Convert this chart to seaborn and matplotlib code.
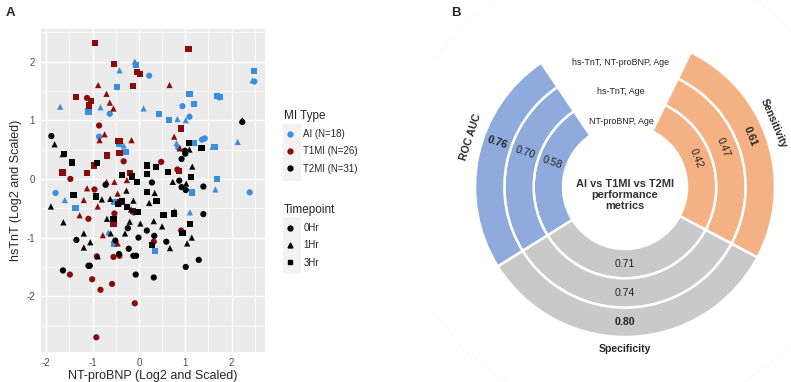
import matplotlib
matplotlib.use("Agg")
import numpy as np
import pandas as pd
import matplotlib.pyplot as plt
import seaborn as sns
from matplotlib.lines import Line2D
from matplotlib.patches import Circle, Rectangle
from matplotlib.ticker import MultipleLocator

# ---- Panel A: points, (NT-proBNP, hsTnT) ----
ai_0hr = [(0.22, 1.76), (-0.63, 1.11), (0.94, 1.24), (1.09, 1.06), (1.73, 1.39), (2.49, 1.66),
          (-0.86, 0.72), (0.85, 0.53), (1.36, 0.67), (1.42, 0.69), (2.39, -0.23), (-1.80, -0.24)]
ai_1hr = [(-0.09, 2.0), (-0.42, 1.85), (-1.70, 1.23), (-0.83, 1.22), (0.10, 1.20), (0.83, 1.02),
          (1.01, 1.0), (2.45, 1.68), (-0.33, 0.57), (0.81, 0.61), (1.59, 0.55), (2.13, 0.63),
          (1.65, -0.18), (-1.60, -0.36), (1.10, -0.57), (-0.66, -0.91)]
ai_3hr = [(-0.06, 1.94), (-0.47, 1.57), (-1.09, 1.15), (0.43, 1.10), (0.65, 1.0), (1.09, 1.45),
          (1.19, 1.28), (1.68, 1.41), (1.75, 1.40), (2.49, 1.84), (-0.43, 0.60), (-0.29, 0.46),
          (1.19, 0.61), (1.63, 0.54), (1.68, 0.0), (1.14, -0.23), (-1.37, -0.49), (-0.53, -0.40),
          (-0.53, -1.11), (0.34, -1.23)]

t1_0hr = [(-1.12, 1.38), (-0.86, 0.91), (-0.33, 0.30), (0.48, 0.29), (0.83, 0.16), (-1.48, 0.0),
          (-0.96, -0.18), (-1.09, -0.68), (-0.53, -0.59), (-0.11, -0.57), (-0.55, -1.33),
          (-0.42, -1.31), (-0.91, -1.32), (0.32, -1.07), (0.91, -0.88), (-1.49, -1.63),
          (-1.01, -1.71), (-0.83, -1.89), (-0.58, -1.79), (-0.09, -2.12), (-0.92, -2.70)]
t1_1hr = [(-0.88, 1.60), (0.66, 1.60), (-0.70, 1.45), (-0.63, 1.30), (-0.55, 1.20), (-0.74, 0.76),
          (-0.85, 0.66), (-0.16, 0.66), (0.76, 0.72), (0.88, 0.52), (-1.65, 0.42), (-0.70, -0.05),
          (-0.53, -0.05), (-0.26, -0.02), (-1.12, -0.16), (-0.46, -0.25), (-1.19, -0.36),
          (-0.89, -0.47), (-1.28, -0.62), (-0.78, -0.96), (-0.46, -1.10), (0.77, -0.55)]
t1_3hr = [(-0.94, 2.31), (1.07, 2.21), (-0.53, 1.96), (-0.04, 1.82), (0.03, 1.79), (-0.12, 1.59),
          (-1.35, 1.39), (-1.04, 1.33), (-1.08, 1.25), (0.91, 0.86), (-0.45, 0.64), (-0.41, 0.64),
          (-0.42, 0.44), (-0.69, 0.40), (-0.97, 0.23), (-1.65, 0.11), (-1.12, 0.10), (-0.20, 0.10),
          (0.86, 0.14), (-0.55, -0.76), (-0.40, -0.39), (-0.13, -0.55)]

t2_0hr = [(-1.89, 0.73), (0.92, 0.34), (0.99, 0.48), (1.0, 0.43), (2.23, 0.97), (0.28, -0.06),
          (0.87, -0.03), (0.92, -0.14), (1.01, -0.19), (1.39, -0.13), (-0.72, -0.10), (-1.35, -1.04),
          (-1.09, -1.48), (-1.06, -1.48), (-1.64, -1.56), (-0.24, -0.84), (0.17, -0.88),
          (-0.51, -1.05), (-0.01, -1.0), (0.33, -0.97), (0.59, -1.07), (1.39, -0.60), (-0.22, -1.19),
          (-0.12, -1.31), (-0.06, -1.31), (-0.43, -1.28), (0.32, -1.68), (-0.07, -1.63),
          (1.01, -1.50), (1.29, -1.38)]
t2_1hr = [(-1.82, 0.59), (1.09, 0.50), (2.23, 1.0), (1.15, 0.21), (0.73, -0.05), (1.02, -0.08),
          (-0.27, -0.20), (0.34, -0.24), (-1.90, -0.47), (-1.63, -0.74), (-1.19, -0.93),
          (-1.19, -1.17), (-1.05, -1.08), (-0.89, -1.32), (-0.80, -0.35), (-0.62, -0.34),
          (-0.43, -0.40), (-0.17, -0.52), (-0.12, -0.37), (0.22, -0.41), (-0.69, -0.68),
          (-0.20, -0.73), (0.03, -0.76), (0.32, -0.72), (-0.61, -0.93), (-0.30, -0.93),
          (0.50, -0.81), (0.67, -1.18), (1.14, -1.0), (1.04, -1.10)]
t2_3hr = [(-1.62, 0.43), (-1.44, 0.28), (-0.90, 0.27), (0.17, 0.23), (0.37, 0.20), (1.08, 0.61),
          (1.35, 0.53), (0.62, 0.12), (0.17, 0.09), (-0.36, 0.06), (-0.15, 0.04), (1.13, 0.03),
          (-0.04, -0.05), (-0.92, -0.30), (-1.41, -0.27), (0.18, -0.22), (-0.45, -0.43),
          (-0.36, -0.38), (-0.26, -0.48), (-0.03, -0.56), (0.38, -0.37), (-0.55, -0.69),
          (0.53, -0.61), (0.75, -0.59), (0.29, -1.13), (0.94, -0.92), (1.10, -0.77)]

mi_types = ["AI (N=18)", "T1MI (N=26)", "T2MI (N=31)"]
timepoints = ["0Hr", "1Hr", "3Hr"]
mi_colors = ["#3A8EDE", "#8B0A0A", "#000000"]
tp_markers = ["o", "^", "s"]

# ---- Panel B: model performance ----
models = ["NT-proBNP, Age", "hs-TnT, Age", "hs-TnT, NT-proBNP, Age"]
metrics = ["ROC AUC", "Sensitivity", "Specificity"]
roc_auc = [0.58, 0.70, 0.76]
sensitivity = [0.42, 0.47, 0.61]
specificity = [0.71, 0.74, 0.80]

groups = [
    (mi_types[0], "0Hr", ai_0hr), (mi_types[0], "1Hr", ai_1hr), (mi_types[0], "3Hr", ai_3hr),
    (mi_types[1], "0Hr", t1_0hr), (mi_types[1], "1Hr", t1_1hr), (mi_types[1], "3Hr", t1_3hr),
    (mi_types[2], "0Hr", t2_0hr), (mi_types[2], "1Hr", t2_1hr), (mi_types[2], "3Hr", t2_3hr),
]
rows = []
for mi, tp, pts in groups:
    for x, y in pts:
        rows.append({"NT-proBNP": x, "hsTnT": y, "MI Type": mi, "Timepoint": tp})
df = pd.DataFrame(rows)

sns.set_style("darkgrid", {"axes.facecolor": "#EBEBEB", "grid.color": "white"})
plt.rcParams["font.family"] = ["Liberation Sans", "DejaVu Sans"]
plt.rcParams["axes.unicode_minus"] = False

W, H = 791, 382
fig = plt.figure(figsize=(W / 100, H / 100), dpi=100)
fig.patch.set_facecolor("white")

# ---------------- Panel A ----------------
ax = fig.add_axes([40.7 / W, 1 - 352 / H, 224.3 / W, 323.3 / H])
sns.scatterplot(data=df, x="NT-proBNP", y="hsTnT", hue="MI Type", style="Timepoint",
                hue_order=mi_types, style_order=timepoints,
                palette=dict(zip(mi_types, mi_colors)),
                markers=dict(zip(timepoints, tp_markers)),
                s=20, linewidth=0, legend=False, ax=ax)
ax.set_xlim(-2.12, 2.72)
ax.set_ylim(-2.95, 2.56)
ax.xaxis.set_major_locator(MultipleLocator(1))
ax.yaxis.set_major_locator(MultipleLocator(1))
ax.xaxis.set_minor_locator(MultipleLocator(0.5))
ax.yaxis.set_minor_locator(MultipleLocator(0.5))
ax.grid(which="major", color="white", linewidth=1.0)
ax.grid(which="minor", color="white", linewidth=0.5)
ax.set_axisbelow(True)
for sp in ax.spines.values():
    sp.set_visible(False)
ax.tick_params(which="major", length=2.5, width=0.6, color="#333333",
               labelsize=7, labelcolor="#4D4D4D", pad=1.5)
ax.tick_params(which="minor", length=0)
ax.set_xlabel("NT-proBNP (Log2 and Scaled)", fontsize=9, labelpad=2)
ax.set_ylabel("hsTnT (Log2 and Scaled)", fontsize=9, labelpad=3)

# legends (ggplot-like)
h1 = [Line2D([], [], marker="o", linestyle="", color=c, markersize=3.5) for c in mi_colors]
h2 = [Line2D([], [], marker=m, linestyle="", color="black", markersize=3.5) for m in tp_markers]
leg_kw = dict(frameon=False, fontsize=7, title_fontsize=8.5, loc="upper left",
              handlelength=1.2, handletextpad=0.8, labelspacing=0.75, borderaxespad=0,
              alignment="left")
leg1 = fig.legend(h1, mi_types, title="MI Type", bbox_to_anchor=(280 / W, 1 - 106 / H), **leg_kw)
leg2 = fig.legend(h2, timepoints, title="Timepoint", bbox_to_anchor=(280 / W, 1 - 200 / H), **leg_kw)
fig.add_artist(Rectangle((283 / W, 1 - 181 / H), 18 / W, 57 / H, transform=fig.transFigure,
                         facecolor="#F2F2F2", edgecolor="none", zorder=0))
fig.add_artist(Rectangle((283 / W, 1 - 274 / H), 18 / W, 57 / H, transform=fig.transFigure,
                         facecolor="#F2F2F2", edgecolor="none", zorder=0))

fig.text(10 / W, 1 - 13 / H, "A", fontsize=9.5, fontweight="bold", va="center", ha="center")
fig.text(456 / W, 1 - 13 / H, "B", fontsize=9.5, fontweight="bold", va="center", ha="center")

# ---------------- Panel B ----------------
x0 = 435
axb = fig.add_axes([x0 / W, 0, (W - x0) / W, 1])
cx, cy = 625, H - 187
r_in, r_out = 62, 150
ring_w = (r_out - r_in) / 3
sector_span = [92, 60, 88, 120]          # sensitivity, gap, roc auc, specificity (deg)
sector_colors = ["#F4B183", "white", "#8FAADC", "#C9C9C9"]
start = -28

axb.add_patch(Circle((cx, cy), 228, facecolor="none", edgecolor="#F9F9F9", linewidth=0.8))
for i in range(3):
    wedges, _ = axb.pie(sector_span, radius=r_in + (i + 1) * ring_w, center=(cx, cy),
                        startangle=start, colors=sector_colors,
                        wedgeprops=dict(width=ring_w, edgecolor="white", linewidth=1.8))
    wedges[1].set_visible(False)

metric_vals = [roc_auc, sensitivity, specificity]
val_angle = [161, 22, -90]
val_rot = [-19, -68, 0]
name_angle = [162, 23, -90]
name_rot = [72, -67, 0]
for k in range(3):
    th = np.deg2rad(val_angle[k])
    for i, v in enumerate(metric_vals[k]):
        r = r_in + (i + 0.5) * ring_w
        axb.text(cx + r * np.cos(th), cy + r * np.sin(th), f"{v:.2f}", fontsize=7.6,
                 fontweight="bold" if i == 2 else "normal", color="#222222",
                 rotation=val_rot[k], ha="center", va="center", rotation_mode="anchor")
    th = np.deg2rad(name_angle[k])
    axb.text(cx + 162 * np.cos(th), cy + 162 * np.sin(th), metrics[k], fontsize=7.6,
             fontweight="bold", rotation=name_rot[k], ha="center", va="center",
             rotation_mode="anchor")

for i, m in enumerate(models):
    r = r_in + (i + 0.5) * ring_w - 11
    axb.text(cx - 4, cy + r, m, fontsize=6.4, ha="center", va="center", color="#222222")

axb.text(cx, cy - 8, "AI vs T1MI vs T2MI\nperformance\nmetrics", fontsize=7.9,
         fontweight="bold", ha="center", va="center", linespacing=1.15, color="#333333")

axb.set_xlim(x0, W)
axb.set_ylim(0, H)
axb.set_aspect("equal")
axb.axis("off")

fig.savefig("out.png", dpi=100, facecolor="white")
